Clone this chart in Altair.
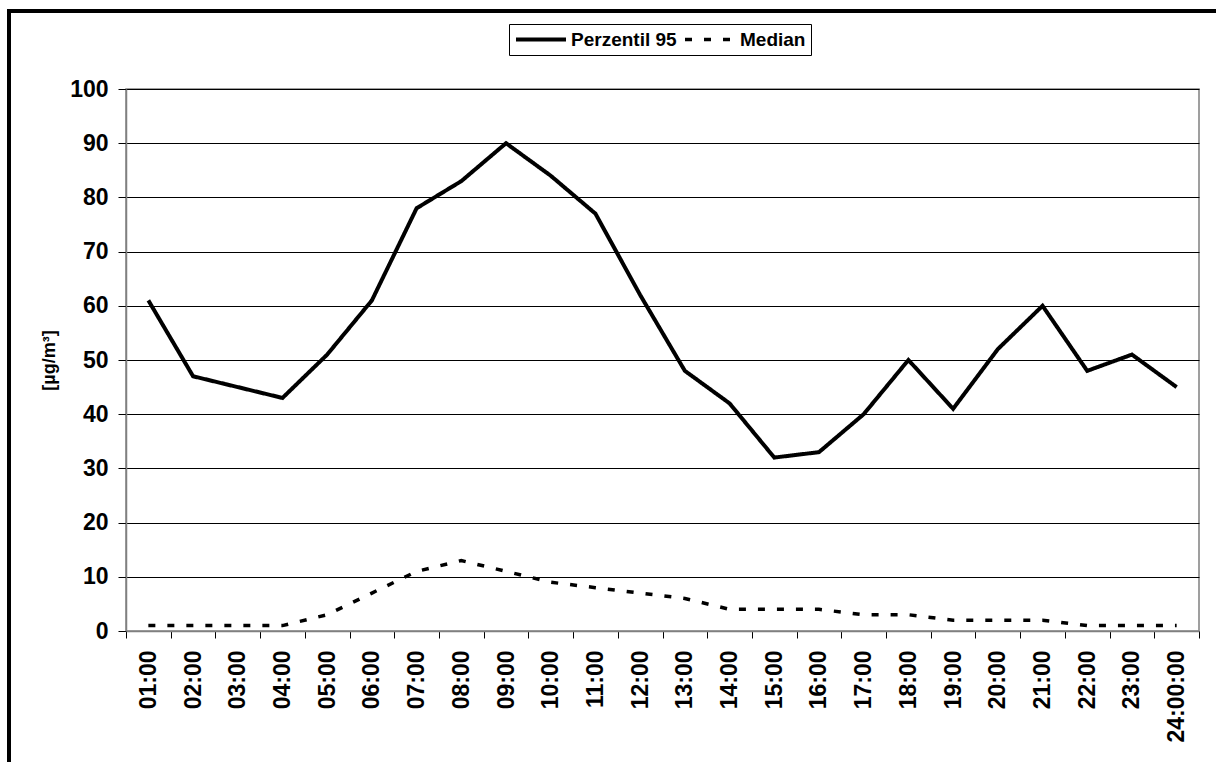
import altair as alt
import pandas as pd

# Hourly values, µg/m³
hours = ["01:00", "02:00", "03:00", "04:00", "05:00", "06:00", "07:00", "08:00",
         "09:00", "10:00", "11:00", "12:00", "13:00", "14:00", "15:00", "16:00",
         "17:00", "18:00", "19:00", "20:00", "21:00", "22:00", "23:00", "24:00:00"]
perzentil_95 = [61, 47, 45, 43, 51, 61, 78, 83, 90, 84, 77, 62,
                48, 42, 32, 33, 40, 50, 41, 52, 60, 48, 51, 45]
median = [1, 1, 1, 1, 3, 7, 11, 13, 11, 9, 8, 7,
          6, 4, 4, 4, 3, 3, 2, 2, 2, 1, 1, 1]
series_names = ["Perzentil 95", "Median"]
y_ticks = list(range(0, 101, 10))

rows = []
for name, vals in zip(series_names, [perzentil_95, median]):
    for h, v in zip(hours, vals):
        rows.append({"Stunde": h, "Wert": v, "Reihe": name})
df = pd.DataFrame(rows)

FONT = "Liberation Sans"

lines = alt.Chart(df).mark_line(color="black", strokeCap="butt").encode(
    x=alt.X(
        "Stunde:N",
        sort=hours,
        bandPosition=0.5,
        scale=alt.Scale(type="band", paddingInner=0, paddingOuter=0),
        axis=alt.Axis(
            title=None,
            labelAngle=270,
            labelAlign="right",
            labelBaseline="middle",
            labelFont=FONT,
            labelFontSize=23,
            labelFontWeight="bold",
            labelColor="black",
            labelPadding=12,
            tickBand="extent",
            tickSize=7,
            tickColor="black",
            domainColor="#808080",
            domainWidth=1.5,
            grid=False,
        ),
    ),
    y=alt.Y(
        "Wert:Q",
        scale=alt.Scale(domain=[0, 100], nice=False),
        axis=alt.Axis(
            values=y_ticks,
            title="[µg/m³]",
            titleFont=FONT,
            titleFontSize=18,
            titleFontWeight="bold",
            titleColor="black",
            titleAngle=270,
            titleAlign="center",
            titleBaseline="middle",
            titleX=-77,
            titleY=271,
            labelFont=FONT,
            labelFontSize=23,
            labelFontWeight="bold",
            labelColor="black",
            labelPadding=10,
            tickSize=8,
            tickColor="black",
            domainColor="#808080",
            domainWidth=1.5,
            grid=True,
            gridColor="black",
            gridWidth=1,
        ),
    ),
    strokeDash=alt.StrokeDash(
        "Reihe:N",
        sort=series_names,
        scale=alt.Scale(domain=series_names, range=[[1, 0], [7, 12]]),
        legend=alt.Legend(
            title=None,
            orient="none",
            legendX=383,
            legendY=-65,
            direction="horizontal",
            symbolType="stroke",
            symbolSize=2500,
            symbolStrokeWidth=4,
            symbolStrokeColor="black",
            clipHeight=21,
            labelFont=FONT,
            labelFontSize=19,
            labelFontWeight="bold",
            labelColor="black",
            labelOffset=3,
            columnPadding=6,
            padding=5,
            strokeColor="black",
            fillColor="white",
        ),
    ),
    strokeWidth=alt.StrokeWidth(
        "Reihe:N",
        scale=alt.Scale(domain=series_names, range=[4, 3.5]),
        legend=None,
    ),
)

# Outer chart frame
frame = alt.Chart(df).mark_rect(filled=False, stroke="black", strokeWidth=3).encode(
    x=alt.value(-117),
    y=alt.value(-78),
    x2=alt.value(1300),
    y2=alt.value(900),
)

chart = alt.layer(lines, frame).properties(
    width=1073,
    height=542,
    padding={"left": 126, "top": 89, "right": 17, "bottom": 131},
    autosize=alt.AutoSizeParams(type="none"),
    background="white",
).configure_view(
    stroke="#808080",
    strokeWidth=1.5,
)

chart.save("out.html", embed_options={"renderer": "svg", "actions": False})
